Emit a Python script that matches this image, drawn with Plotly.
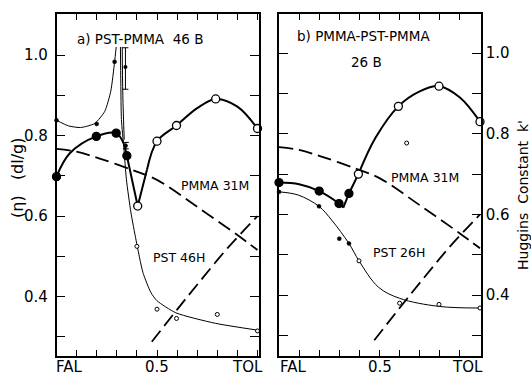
import plotly.graph_objects as go

# ---------------- data ----------------
# shared dashed reference curves
pmma31m_x = [0, 0.1, 0.215, 0.38, 0.5, 0.7, 0.9, 1.0]
pmma31m_y = [0.767, 0.76, 0.743, 0.714, 0.69, 0.623, 0.553, 0.516]
pst_hom_x = [0.474, 0.6, 0.71, 0.85, 1.0]
pst_hom_y = [0.288, 0.368, 0.436, 0.52, 0.60]

# panel a) PST-PMMA 46 B
a_thick1_x = [0, 0.066, 0.198, 0.297, 0.33, 0.35]
a_thick1_y = [0.698, 0.756, 0.798, 0.806, 0.785, 0.75]
a_thick2_x = [0.35, 0.404, 0.45]
a_thick2_y = [0.75, 0.625, 0.715]
a_thick3_x = [0.45, 0.5, 0.597, 0.7, 0.792, 0.9, 1.0]
a_thick3_y = [0.715, 0.786, 0.825, 0.868, 0.891, 0.872, 0.8175]
a_thinL_x = [0, 0.06, 0.12, 0.19, 0.24, 0.27, 0.289, 0.297]
a_thinL_y = [0.838, 0.824, 0.82, 0.83, 0.86, 0.91, 0.983, 1.02]
a_thinR_x = [0.318, 0.32, 0.323, 0.335, 0.348, 0.37, 0.396, 0.43, 0.47, 0.5, 0.594, 0.79, 1.0]
a_thinR_y = [1.02, 0.93, 0.84, 0.77, 0.69, 0.61, 0.54, 0.46, 0.41, 0.39, 0.36, 0.334, 0.317]
a_thinV_x = [0.327, 0.33, 0.337]
a_thinV_y = [1.02, 0.9, 0.79]
a_big_filled_x = [0, 0.198, 0.297, 0.35]
a_big_filled_y = [0.698, 0.798, 0.806, 0.75]
a_big_open_x = [0.404, 0.5, 0.597, 0.792, 1.0]
a_big_open_y = [0.625, 0.786, 0.825, 0.891, 0.8175]
a_small_filled_x = [0, 0.2, 0.289]
a_small_filled_y = [0.838, 0.829, 0.983]
a_small_open_x = [0.40, 0.5, 0.597, 0.8, 1.0]
a_small_open_y = [0.525, 0.369, 0.346, 0.356, 0.315]
a_err_x = [0.343, 0.345]
a_err_y = [0.97, 0.775]
a_err_plus = [0.048, 0.008]
a_err_minus = [0.055, 0.008]

# panel b) PMMA-PST-PMMA 26 B
b_thick1_x = [0, 0.1, 0.2, 0.2985, 0.32]
b_thick1_y = [0.679, 0.675, 0.658, 0.627, 0.617]
b_thick2_x = [0.32, 0.348, 0.395]
b_thick2_y = [0.617, 0.652, 0.70]
b_thick3_x = [0.395, 0.48, 0.594, 0.7, 0.796, 0.9, 1.0]
b_thick3_y = [0.70, 0.79, 0.868, 0.905, 0.918, 0.89, 0.83]
b_thin_x = [0, 0.096, 0.199, 0.262, 0.348, 0.398, 0.494, 0.6, 0.796, 1.0]
b_thin_y = [0.656, 0.648, 0.62, 0.586, 0.528, 0.485, 0.42, 0.392, 0.372, 0.368]
b_big_filled_x = [0, 0.2, 0.2985, 0.348]
b_big_filled_y = [0.679, 0.658, 0.627, 0.652]
b_big_open_x = [0.395, 0.594, 0.796, 1.0]
b_big_open_y = [0.70, 0.868, 0.918, 0.83]
b_small_filled_x = [0, 0.199, 0.3, 0.348]
b_small_filled_y = [0.656, 0.62, 0.54, 0.528]
b_small_open_x = [0.398, 0.6, 0.796, 1.0, 0.635]
b_small_open_y = [0.485, 0.38, 0.377, 0.368, 0.777]

# ticks / labels
x_tickvals = [0, 0.1, 0.2, 0.3, 0.4, 0.5, 0.6, 0.7, 0.8, 0.9, 1.0]
x_labels = ["FAL", "0.5", "TOL"]
a_xlabel_pos = [0.064, 0.5, 0.95]
b_xlabel_pos = [0.07, 0.5, 0.94]
y_tickvals = [0.3, 0.4, 0.5, 0.6, 0.7, 0.8, 0.9, 1.0]
y_ticktext = ["", "0.4", "", "0.6", "", "0.8", "", "1.0"]

# ---------------- figure ----------------
W, H = 531, 378
FONT = "DejaVu Sans"
fig = go.Figure()

def line(x, y, xa, ya, width, dash=None, shape="spline", smooth=1.0):
    fig.add_trace(go.Scatter(x=x, y=y, xaxis=xa, yaxis=ya, mode="lines",
                             line=dict(color="black", width=width, dash=dash,
                                       shape=shape, smoothing=smooth),
                             showlegend=False, hoverinfo="skip", cliponaxis=False))

def marks(x, y, xa, ya, size, filled, lw=1.3):
    fig.add_trace(go.Scatter(x=x, y=y, xaxis=xa, yaxis=ya, mode="markers",
                             marker=dict(size=size, color="black" if filled else "white",
                                         line=dict(color="black", width=lw)),
                             showlegend=False, hoverinfo="skip", cliponaxis=False))

DASH = "14px,6px"
for xa, ya in (("x", "y"), ("x2", "y2")):
    line(pmma31m_x, pmma31m_y, xa, ya, 1.8, DASH)
    line(pst_hom_x, pst_hom_y, xa, ya, 1.8, DASH)

# panel a
line(a_thinL_x, a_thinL_y, "x", "y", 1.0, smooth=0.6)
line(a_thinR_x, a_thinR_y, "x", "y", 1.0, smooth=0.6)
line(a_thinV_x, a_thinV_y, "x", "y", 1.0)
line(a_thick1_x, a_thick1_y, "x", "y", 2.0)
line(a_thick2_x, a_thick2_y, "x", "y", 2.0, shape="linear")
line(a_thick3_x, a_thick3_y, "x", "y", 2.0)
fig.add_trace(go.Scatter(x=a_err_x, y=a_err_y, xaxis="x", yaxis="y", mode="markers",
                         marker=dict(size=4, color="black"),
                         error_y=dict(type="data", symmetric=False, array=a_err_plus,
                                      arrayminus=a_err_minus, color="black",
                                      thickness=1, width=3),
                         showlegend=False, hoverinfo="skip"))
marks(a_big_filled_x, a_big_filled_y, "x", "y", 8, True)
marks(a_big_open_x, a_big_open_y, "x", "y", 8, False)
marks(a_small_filled_x, a_small_filled_y, "x", "y", 4, True, 0.5)
marks(a_small_open_x, a_small_open_y, "x", "y", 4, False, 1.0)

# panel b
line(b_thin_x, b_thin_y, "x2", "y2", 1.0)
line(b_thick1_x, b_thick1_y, "x2", "y2", 2.0)
line(b_thick2_x, b_thick2_y, "x2", "y2", 2.0, shape="linear")
line(b_thick3_x, b_thick3_y, "x2", "y2", 2.0)
marks(b_big_filled_x, b_big_filled_y, "x2", "y2", 8, True)
marks(b_big_open_x, b_big_open_y, "x2", "y2", 8, False)
marks(b_small_filled_x, b_small_filled_y, "x2", "y2", 4, True, 0.5)
marks(b_small_open_x, b_small_open_y, "x2", "y2", 4, False, 1.0)

ydom = [22 / H, 364 / H]
xcommon = dict(showline=True, linecolor="black", linewidth=1.5, mirror="allticks",
               ticks="inside", ticklen=6, tickwidth=1.2, tickcolor="black",
               tickvals=x_tickvals, ticktext=[""] * len(x_tickvals),
               showgrid=False, zeroline=False, fixedrange=True)
ycommon = dict(showline=True, linecolor="black", linewidth=1.5, mirror="allticks",
               ticks="inside", ticklen=9, tickwidth=1.2, tickcolor="black",
               tickvals=y_tickvals, ticktext=y_ticktext,
               tickfont=dict(family=FONT, size=15, color="black"),
               showgrid=False, zeroline=False, fixedrange=True, domain=ydom)

fig.update_layout(
    width=W, height=H, margin=dict(l=0, r=0, t=0, b=0),
    paper_bgcolor="white", plot_bgcolor="white",
    xaxis=dict(domain=[56.5 / W, 259 / W], range=[0, 1.0075], anchor="y", **xcommon),
    xaxis2=dict(domain=[279 / W, 481 / W], range=[0, 1.005], anchor="y2", **xcommon),
    yaxis=dict(range=[0.2528, 1.1018], anchor="x", side="left",
               ticklabelstandoff=4, **ycommon),
    yaxis2=dict(range=[0.249, 1.097], anchor="x2", side="right",
                ticklabelstandoff=0, **ycommon),
)

def ann(text, x, y, size, xref="paper", yref="paper", angle=0, yanchor="middle"):
    fig.add_annotation(text=text, x=x, y=y, xref=xref, yref=yref, showarrow=False,
                       textangle=angle, xanchor="center", yanchor=yanchor,
                       font=dict(family=FONT, size=size, color="black"))

def px(xp, yp):
    return xp / W, 1 - yp / H

for lab, pos in zip(x_labels, a_xlabel_pos):
    ann(lab, pos, 0, 15, xref="x", yanchor="bottom")
for lab, pos in zip(x_labels, b_xlabel_pos):
    ann(lab, pos, 0, 15, xref="x2", yanchor="bottom")

ann("a) PST-PMMA  46 B", *px(139.5, 38.8), 13.5)
ann("PMMA 31M", *px(215, 185), 12.5)
ann("PST 46H", *px(179, 257.5), 12.5)
ann("b) PMMA-PST-PMMA", *px(363.3, 36), 13.5)
ann("26 B", *px(366.7, 61.7), 13.5)
ann("PMMA 31M", *px(425, 177.5), 12.5)
ann("PST 26H", *px(398.8, 252), 12.5)
ann("(η)   (dl/g)", *px(17, 178), 16, angle=-90)
ann("Huggins  Constant  k'", *px(523, 195), 14, angle=-90)

fig.write_html("out.html",
               config={"displayModeBar": False},
               post_script="document.body.style.margin='0px';"
                           "document.body.style.overflow='hidden';")
